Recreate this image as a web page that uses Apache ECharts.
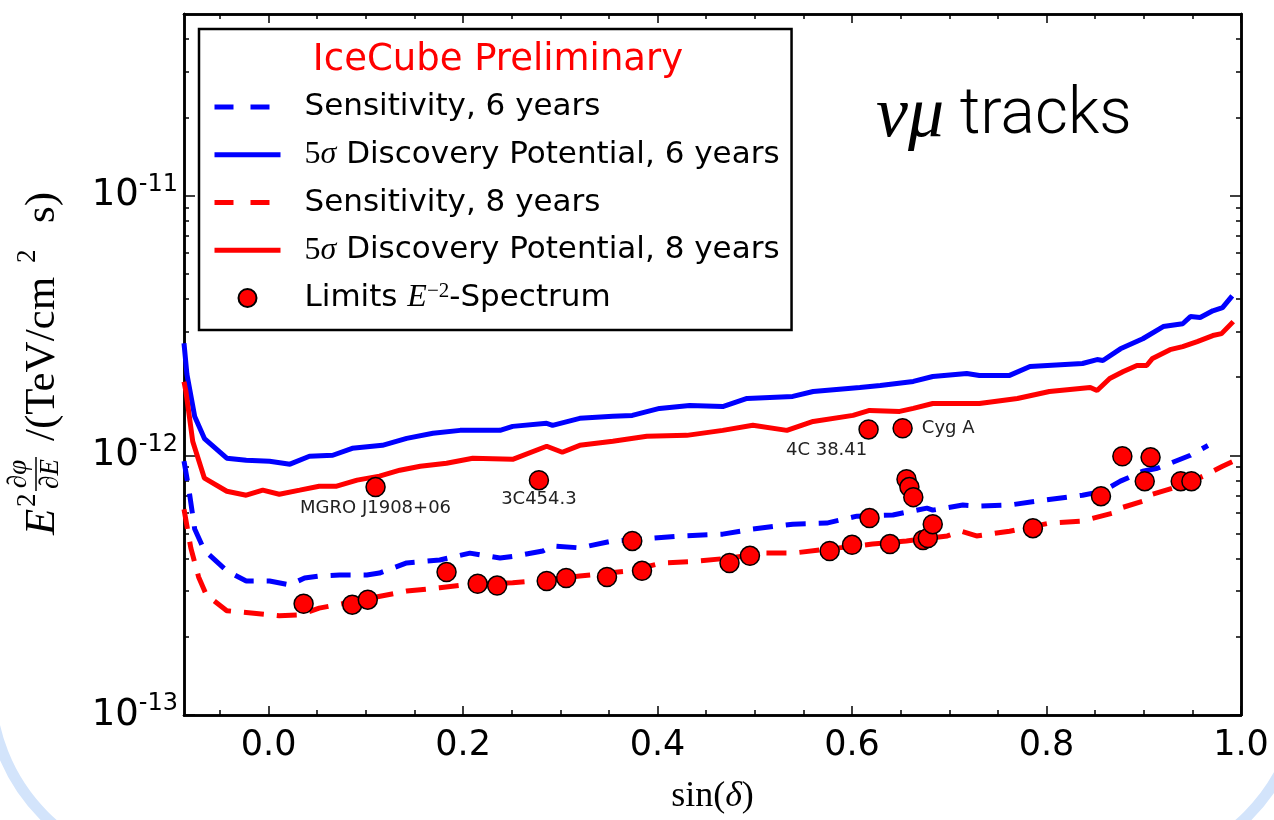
<!DOCTYPE html>
<html>
<head>
<meta charset="utf-8">
<script src="https://cdn.jsdelivr.net/npm/echarts@6/dist/echarts.min.js"></script>
<style>
  html, body { margin: 0; padding: 0; background: #ffffff; }
  #chart { width: 1274px; height: 820px; }
</style>
</head>
<body>
<div id="chart"></div>
<script>
// Point-source sensitivity / discovery potential versus sin(declination)

// 6-year sensitivity (dashed blue)
const sens6Sin = [-0.087, -0.082, -0.076, -0.066, -0.043, -0.023, 0.001, 0.022, 0.037, 0.052,
  0.073, 0.101, 0.114, 0.142, 0.176, 0.207, 0.238, 0.255, 0.282, 0.292,
  0.320, 0.354, 0.371, 0.423, 0.467, 0.498, 0.539, 0.574, 0.605, 0.642,
  0.677, 0.683, 0.714, 0.731, 0.762, 0.790, 0.837, 0.858, 0.876, 0.899,
  0.914, 0.948, 0.966];
const sens6Flux = [0.95e-12, 0.74e-12, 0.52e-12, 0.43e-12, 0.359e-12, 0.328e-12, 0.328e-12, 0.317e-12, 0.337e-12, 0.343e-12,
  0.346e-12, 0.346e-12, 0.352e-12, 0.385e-12, 0.395e-12, 0.420e-12, 0.402e-12, 0.410e-12, 0.428e-12, 0.448e-12,
  0.440e-12, 0.468e-12, 0.472e-12, 0.489e-12, 0.497e-12, 0.520e-12, 0.543e-12, 0.548e-12, 0.583e-12, 0.589e-12,
  0.626e-12, 0.615e-12, 0.643e-12, 0.637e-12, 0.643e-12, 0.666e-12, 0.702e-12, 0.727e-12, 0.795e-12, 0.868e-12,
  0.891e-12, 1.000e-12, 1.090e-12];

// 6-year 5 sigma discovery potential (solid blue)
const disc6Sin = [-0.087, -0.084, -0.076, -0.066, -0.043, -0.023, 0.001, 0.022, 0.042, 0.066,
  0.086, 0.117, 0.142, 0.169, 0.197, 0.238, 0.251, 0.286, 0.292, 0.320,
  0.354, 0.374, 0.402, 0.433, 0.467, 0.492, 0.539, 0.560, 0.608, 0.629,
  0.663, 0.683, 0.718, 0.731, 0.762, 0.783, 0.837, 0.852, 0.858, 0.876,
  0.899, 0.920, 0.940, 0.948, 0.958, 0.971, 0.981, 0.991];
const disc6Flux = [2.70e-12, 2.05e-12, 1.41e-12, 1.16e-12, 0.974e-12, 0.957e-12, 0.948e-12, 0.924e-12, 0.991e-12, 1.000e-12,
  1.064e-12, 1.092e-12, 1.162e-12, 1.215e-12, 1.247e-12, 1.247e-12, 1.292e-12, 1.327e-12, 1.304e-12, 1.387e-12,
  1.412e-12, 1.424e-12, 1.515e-12, 1.556e-12, 1.540e-12, 1.655e-12, 1.685e-12, 1.760e-12, 1.824e-12, 1.857e-12,
  1.925e-12, 2.010e-12, 2.064e-12, 2.028e-12, 2.030e-12, 2.196e-12, 2.256e-12, 2.336e-12, 2.316e-12, 2.570e-12,
  2.810e-12, 3.130e-12, 3.210e-12, 3.420e-12, 3.390e-12, 3.600e-12, 3.700e-12, 4.110e-12];

// 8-year sensitivity (dashed red)
const sens8Sin = [-0.087, -0.080, -0.072, -0.064, -0.043, -0.023, 0.011, 0.032, 0.052, 0.080,
  0.107, 0.142, 0.176, 0.200, 0.251, 0.286, 0.320, 0.371, 0.405, 0.433,
  0.474, 0.508, 0.539, 0.577, 0.621, 0.656, 0.698, 0.712, 0.728, 0.762,
  0.803, 0.837, 0.868, 0.876, 0.899, 0.906, 0.940, 0.961, 0.981, 0.992];
const sens8Flux = [0.62e-12, 0.44e-12, 0.34e-12, 0.29e-12, 0.252e-12, 0.248e-12, 0.241e-12, 0.243e-12, 0.258e-12, 0.270e-12,
  0.283e-12, 0.300e-12, 0.309e-12, 0.317e-12, 0.323e-12, 0.331e-12, 0.343e-12, 0.359e-12, 0.385e-12, 0.389e-12,
  0.402e-12, 0.420e-12, 0.420e-12, 0.436e-12, 0.455e-12, 0.468e-12, 0.489e-12, 0.510e-12, 0.489e-12, 0.510e-12,
  0.548e-12, 0.558e-12, 0.599e-12, 0.626e-12, 0.666e-12, 0.702e-12, 0.767e-12, 0.831e-12, 0.907e-12, 0.948e-12];

// 8-year 5 sigma discovery potential (solid red)
const disc8Sin = [-0.087, -0.085, -0.078, -0.066, -0.043, -0.023, -0.006, 0.011, 0.032, 0.052,
  0.070, 0.091, 0.114, 0.135, 0.156, 0.183, 0.210, 0.251, 0.286, 0.302,
  0.320, 0.354, 0.389, 0.430, 0.467, 0.498, 0.533, 0.560, 0.601, 0.618,
  0.649, 0.663, 0.683, 0.731, 0.770, 0.803, 0.845, 0.852, 0.865, 0.879,
  0.893, 0.903, 0.909, 0.927, 0.940, 0.955, 0.971, 0.980, 0.992];
const disc8Flux = [1.92e-12, 1.76e-12, 1.13e-12, 0.816e-12, 0.727e-12, 0.702e-12, 0.734e-12, 0.708e-12, 0.734e-12, 0.760e-12,
  0.760e-12, 0.802e-12, 0.831e-12, 0.876e-12, 0.907e-12, 0.932e-12, 0.974e-12, 0.965e-12, 1.083e-12, 1.027e-12,
  1.092e-12, 1.132e-12, 1.183e-12, 1.193e-12, 1.247e-12, 1.304e-12, 1.247e-12, 1.350e-12, 1.424e-12, 1.488e-12,
  1.475e-12, 1.515e-12, 1.583e-12, 1.583e-12, 1.655e-12, 1.760e-12, 1.824e-12, 1.775e-12, 1.975e-12, 2.100e-12,
  2.216e-12, 2.216e-12, 2.360e-12, 2.550e-12, 2.620e-12, 2.740e-12, 2.890e-12, 2.940e-12, 3.270e-12];

// Upper limits on source-list objects (E^-2 spectrum)
const limitSin = [0.036, 0.086, 0.102, 0.183, 0.215, 0.235, 0.286, 0.306, 0.348, 0.374,
  0.384, 0.474, 0.495, 0.577, 0.600, 0.618, 0.639, 0.656, 0.659, 0.663,
  0.673, 0.678, 0.683, 0.786, 0.856, 0.878, 0.907, 0.901, 0.938, 0.949];
const limitFlux = [0.268e-12, 0.266e-12, 0.278e-12, 0.355e-12, 0.320e-12, 0.315e-12, 0.328e-12, 0.337e-12, 0.340e-12, 0.468e-12,
  0.359e-12, 0.385e-12, 0.410e-12, 0.428e-12, 0.452e-12, 0.573e-12, 0.455e-12, 0.809e-12, 0.754e-12, 0.690e-12,
  0.472e-12, 0.480e-12, 0.543e-12, 0.524e-12, 0.696e-12, 0.991e-12, 0.982e-12, 0.795e-12, 0.795e-12, 0.795e-12];

// Labelled sources
const namedSources = ['MGRO J1908+06', '3C454.3', '4C 38.41', 'Cyg A'];
const namedSin = [0.110, 0.278, 0.617, 0.652];
const namedFlux = [0.754e-12, 0.802e-12, 1.258e-12, 1.270e-12];

// Axis ticks
const xMajorTicks = [0.0, 0.2, 0.4, 0.6, 0.8, 1.0];
const xMinorTicks = [-0.05, 0.05, 0.10, 0.15, 0.25, 0.30, 0.35, 0.45, 0.50, 0.55, 0.65, 0.70, 0.75, 0.85, 0.90, 0.95];
const yMajorTicks = [1e-13, 1e-12, 1e-11];
const yMinorTicks = [2e-13, 3e-13, 4e-13, 5e-13, 6e-13, 7e-13, 8e-13, 9e-13,
  2e-12, 3e-12, 4e-12, 5e-12, 6e-12, 7e-12, 8e-12, 9e-12,
  2e-11, 3e-11, 4e-11];

const X_MIN = -0.087, X_MAX = 1.0;
const Y_MIN = 1e-13, Y_MAX = 5e-11;

const BLUE = '#0000ff';
const RED = '#ff0000';

const NAME_S6 = 'Sensitivity, 6 years';
const NAME_D6 = '5σ Discovery Potential, 6 years';
const NAME_S8 = 'Sensitivity, 8 years';
const NAME_D8 = '5σ Discovery Potential, 8 years';
const NAME_LIM = 'Limits E−2-Spectrum';

const legendRich = {};
legendRich[NAME_S6] = NAME_S6;
legendRich[NAME_D6] = '{n|5}{g|σ} Discovery Potential, 6 years';
legendRich[NAME_S8] = NAME_S8;
legendRich[NAME_D8] = '{n|5}{g|σ} Discovery Potential, 8 years';
legendRich[NAME_LIM] = 'Limits {e|E}{s|−2}-Spectrum';

const sourceLabelStyle = {
  'MGRO J1908+06': { position: 'bottom', distance: 2 },
  '3C454.3': { position: 'bottom', distance: 0 },
  '4C 38.41': { position: 'bottom', distance: 2, offset: [-42, 0] },
  'Cyg A': { position: 'right', distance: 9 }
};

const pairs = (xs, ys) => xs.map((x, i) => [x, ys[i]]);

const limitData = pairs(limitSin, limitFlux).map(v => ({ value: v }));
namedSources.forEach((name, i) => {
  limitData.push({
    name: name,
    value: [namedSin[i], namedFlux[i]],
    label: Object.assign({
      show: true,
      formatter: name,
      fontFamily: 'DejaVu Sans',
      fontSize: 18,
      color: '#222'
    }, sourceLabelStyle[name])
  });
});

const axisLineStyle = { show: true, onZero: false, lineStyle: { color: '#000', width: 2.5 } };

function xAxisDef(position, ticks, len, withLabels) {
  const ax = {
    type: 'value', position: position, min: X_MIN, max: X_MAX,
    axisLine: axisLineStyle,
    splitLine: { show: false },
    axisTick: { show: true, inside: true, length: len, customValues: ticks, lineStyle: { color: '#000', width: 1.5 } },
    axisLabel: { show: false }
  };
  if (withLabels) {
    ax.axisLabel = {
      show: true, customValues: ticks, margin: 13,
      formatter: v => v.toFixed(1),
      fontFamily: 'DejaVu Sans', fontSize: 35, color: '#000'
    };
    ax.name = 'sin({i|δ})';
    ax.nameLocation = 'middle';
    ax.nameGap = 64;
    ax.nameTextStyle = {
      fontFamily: 'Liberation Serif', fontSize: 36, color: '#000',
      rich: { i: { fontFamily: 'Liberation Serif', fontStyle: 'italic', fontSize: 36, color: '#000' } }
    };
  }
  return ax;
}

function yAxisDef(position, ticks, len, withLabels) {
  const ax = {
    type: 'log', logBase: 10, position: position, min: Y_MIN, max: Y_MAX,
    axisLine: axisLineStyle,
    splitLine: { show: false },
    minorTick: { show: false },
    axisTick: { show: true, inside: true, length: len, customValues: ticks, lineStyle: { color: '#000', width: 1.5 } },
    axisLabel: { show: false }
  };
  if (withLabels) {
    ax.axisLabel = {
      show: true, customValues: ticks, margin: 6,
      formatter: v => '{b|10}{s|' + Math.round(Math.log10(v)) + '}',
      rich: {
        b: { fontFamily: 'DejaVu Sans', fontSize: 37, color: '#000', lineHeight: 46 },
        s: { fontFamily: 'DejaVu Sans', fontSize: 24, color: '#000', lineHeight: 20, verticalAlign: 'top' }
      }
    };
  }
  return ax;
}

// Rotated y-axis title: E^2 dphi/dE /(TeV/cm^2 s)
const serifMain = '43px "Liberation Serif"';
const serifSmall = '27px "Liberation Serif"';
function t(text, x, y, font, align) {
  return {
    type: 'text', x: x, y: y, silent: true,
    style: { text: text, font: font, fill: '#000', align: align || 'left', textAlign: align || 'left', verticalAlign: 'middle', textVerticalAlign: 'middle' }
  };
}
const yTitle = {
  type: 'group', x: 57, y: 535, rotation: Math.PI / 2, silent: true,
  children: [
    t('E', 0, -14, 'italic ' + serifMain),
    t('2', 28, -29, serifSmall),
    t('∂φ', 61, -38, 'italic ' + serifSmall, 'center'),
    { type: 'line', silent: true, shape: { x1: 44, y1: -21, x2: 78, y2: -21 }, style: { stroke: '#000', lineWidth: 1.5 } },
    t('∂E', 61, -6, 'italic ' + serifSmall, 'center'),
    t('/(TeV/cm', 94, -14, serifMain),
    t('2', 272, -29, serifSmall),
    t('s)', 312, -14, serifMain)
  ]
};

// Legend swatches: a plain line (no marker) for the curves
const dashedSwatch = { type: [19, 17], width: 5 };
const solidSwatch = { type: 'solid', width: 5 };
const noMarker = { opacity: 0 };

const chart = echarts.init(document.getElementById('chart'), null, { renderer: 'canvas' });

chart.setOption({
  animation: false,
  backgroundColor: '#ffffff',
  grid: { left: 184, right: 33, top: 14, bottom: 102, containLabel: false },
  xAxis: [
    xAxisDef('bottom', xMajorTicks, 9, true),
    xAxisDef('bottom', xMinorTicks, 5, false),
    xAxisDef('top', xMajorTicks, 9, false),
    xAxisDef('top', xMinorTicks, 5, false)
  ],
  yAxis: [
    yAxisDef('left', yMajorTicks, 11, true),
    yAxisDef('left', yMinorTicks, 5, false),
    yAxisDef('right', yMajorTicks, 11, false),
    yAxisDef('right', yMinorTicks, 5, false)
  ],
  legend: {
    orient: 'vertical', left: 199, top: 29,
    padding: [61, 12, 15, 13],
    itemWidth: 66, itemHeight: 18, itemGap: 13.75,
    borderColor: '#000', borderWidth: 2.5, borderRadius: 0,
    backgroundColor: '#ffffff',
    selectedMode: false,
    formatter: name => legendRich[name],
    textStyle: {
      fontFamily: 'DejaVu Sans', fontSize: 31, color: '#000', lineHeight: 34,
      padding: [0, 0, 0, 19],
      rich: {
        n: { fontFamily: 'Liberation Serif', fontSize: 32, color: '#000', lineHeight: 34 },
        g: { fontFamily: 'Liberation Serif', fontStyle: 'italic', fontSize: 32, color: '#000', lineHeight: 34 },
        e: { fontFamily: 'Liberation Serif', fontStyle: 'italic', fontSize: 32, color: '#000', lineHeight: 34 },
        s: { fontFamily: 'Liberation Serif', fontSize: 21, color: '#000', lineHeight: 18, verticalAlign: 'top' }
      }
    },
    data: [
      { name: NAME_S6, lineStyle: dashedSwatch, itemStyle: noMarker },
      { name: NAME_D6, lineStyle: solidSwatch, itemStyle: noMarker },
      { name: NAME_S8, lineStyle: dashedSwatch, itemStyle: noMarker },
      { name: NAME_D8, lineStyle: solidSwatch, itemStyle: noMarker },
      { name: NAME_LIM, icon: 'circle' }
    ]
  },
  series: [
    {
      name: NAME_S6, type: 'line', data: pairs(sens6Sin, sens6Flux),
      symbol: 'none', clip: true,
      lineStyle: { color: BLUE, width: 5, type: [20, 13] }, itemStyle: { color: BLUE }
    },
    {
      name: NAME_D6, type: 'line', data: pairs(disc6Sin, disc6Flux),
      symbol: 'none', clip: true,
      lineStyle: { color: BLUE, width: 5 }, itemStyle: { color: BLUE }
    },
    {
      name: NAME_S8, type: 'line', data: pairs(sens8Sin, sens8Flux),
      symbol: 'none', clip: true,
      lineStyle: { color: RED, width: 5, type: [20, 13] }, itemStyle: { color: RED }
    },
    {
      name: NAME_D8, type: 'line', data: pairs(disc8Sin, disc8Flux),
      symbol: 'none', clip: true,
      lineStyle: { color: RED, width: 5 }, itemStyle: { color: RED }
    },
    {
      name: NAME_LIM, type: 'scatter', data: limitData,
      symbol: 'circle', symbolSize: 19, z: 5,
      itemStyle: { color: RED, borderColor: '#000', borderWidth: 1.5, opacity: 1 }
    }
  ],
  graphic: [
    {
      type: 'rect', silent: true, z: 0,
      shape: { x: -10, y: -600, width: 1312, height: 1470, r: 185 },
      style: { fill: 'none', stroke: '#d3e4fb', lineWidth: 11 }
    },
    {
      type: 'text', silent: true, z: 100, x: 498, y: 60,
      style: {
        text: 'IceCube Preliminary', font: '37px "DejaVu Sans"', fill: RED,
        align: 'center', textAlign: 'center', verticalAlign: 'middle', textVerticalAlign: 'middle'
      }
    },
    {
      type: 'text', silent: true, z: 100, x: 876, y: 117,
      style: {
        text: '{g|νμ}{t| tracks}', fill: '#000',
        verticalAlign: 'middle', textVerticalAlign: 'middle',
        rich: {
          g: { fontFamily: 'Liberation Serif', fontStyle: 'italic', fontSize: 72, fill: '#000', lineHeight: 74 },
          t: { fontFamily: 'Roboto', fontWeight: 300, fontSize: 64, fill: '#000', lineHeight: 74 }
        }
      }
    },
    yTitle
  ]
});
</script>
</body>
</html>
